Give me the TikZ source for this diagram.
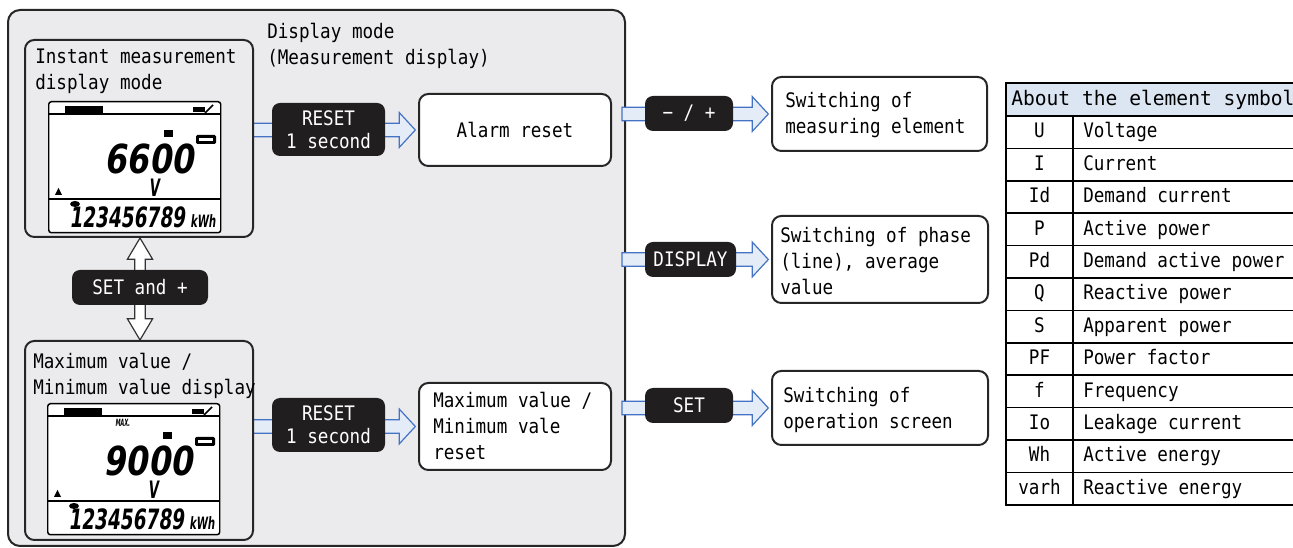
\documentclass[tikz,border=0pt]{standalone}
\usepackage{fontspec}
\setmainfont{DejaVu Sans Mono}[FakeStretch=0.88]
\newfontfamily\lcdfont{DejaVu Sans}[UprightFont={* Bold},FakeSlant=0.2]
\usetikzlibrary{calc}

\definecolor{panelgray}{RGB}{235,235,237}
\definecolor{flowblue}{RGB}{68,114,196}
\definecolor{flowfill}{RGB}{228,236,247}
\definecolor{keyblack}{RGB}{33,30,31}
\definecolor{headblue}{RGB}{220,230,242}

\pgfdeclarelayer{back}
\pgfdeclarelayer{flow}
\pgfsetlayers{back,flow,main}

\tikzset{
  boxsize/.style 2 args={minimum width=#1*0.75pt,minimum height=#2*0.75pt},
  txt/.style={font=\fontsize{15pt}{19.5pt}\selectfont,inner sep=0pt,align=left},
  panel/.style={draw=black!85,line width=1.5pt,fill=panelgray,rounded corners=9pt,inner sep=0pt},
  modebox/.style={draw=black!85,line width=1.5pt,fill=panelgray,rounded corners=7pt,inner sep=0pt},
  actbox/.style={draw=black!85,line width=1.5pt,fill=white,rounded corners=7pt,inner sep=0pt,
    font=\fontsize{15pt}{19.5pt}\selectfont},
  keybox/.style={fill=keyblack,text=white,rounded corners=6pt,inner sep=0pt,align=center,
    font=\fontsize{15pt}{17.25pt}\selectfont},
  flowarrow/.style={draw=flowblue,fill=flowfill,line width=0.9pt,line join=miter},
  keyarrow/.style={draw=black!80,fill=white,line width=0.9pt,line join=miter},
  lcdframe/.style={draw=black,line width=1.1pt,fill=white,rounded corners=2pt,inner sep=0pt,
    boxsize={172}{131}},
  gridline/.style={draw=black,line width=1.1pt},
}

% hollow arrow, east side of #1 to west side of #2, at the height of #2
\newcommand\hflow[2]{%
  \path[flowarrow] let \p1=(#1.east), \p2=(#2.west) in
    (\x1-3pt,\y2+5pt) -- (\x2-14pt,\y2+5pt) -- (\x2-14pt,\y2+13pt) -- (\x2-2pt,\y2)
    -- (\x2-14pt,\y2-13pt) -- (\x2-14pt,\y2-5pt) -- (\x1-3pt,\y2-5pt) -- cycle;}

% hollow arrow going up or down from #1 to #2
\newcommand\vflow[2]{%
  \path[keyarrow] let \p1=(#1), \p2=(#2), \n1={(\y2>\y1)*2-1} in
    (\x1-4pt,\y1) -- (\x1-4pt,\y2-\n1*16pt) -- (\x1-9.5pt,\y2-\n1*16pt) -- (\x1,\y2)
    -- (\x1+9.5pt,\y2-\n1*16pt) -- (\x1+4pt,\y2-\n1*16pt) -- (\x1+4pt,\y1) -- cycle;}

% meter screen: #1 name, #2 top left corner, #3 reading, #4 extra marks
\newcommand\lcdpanel[4]{%
  \begin{scope}[shift={#2}]
    \node[lcdframe,anchor=north west] (#1) at (0,0) {};
    \draw[line width=1.1pt] (0,13) -- (172,13);
    \draw[line width=1.1pt] (0,98) -- (172,98);
    \fill (17,5) rectangle (55,12);
    \fill (145,6) rectangle (157,11);
    \draw[line width=1.2pt] (157,12) -- (165,4);
    \fill (116,29) rectangle (125,36);
    \fill[rounded corners=1pt] (148,34) rectangle (168,43);
    \fill[white] (151,37) rectangle (165,40);
    \node[inner sep=0pt,anchor=base east,font=\lcdfont\fontsize{30pt}{30pt}\selectfont]
      (#1-val) at (146,73) {\scalebox{0.8}[1]{#3}};
    \node[inner sep=0pt,anchor=base,font=\lcdfont\fontsize{18pt}{18pt}\selectfont]
      (#1-unit) at (106,96) {\scalebox{0.55}[1]{V}};
    \fill (7,94) -- (14,94) -- (10.5,87) -- cycle;
    \fill (27,103) ellipse [x radius=5,y radius=3];
    \node[inner sep=0pt,anchor=base west,font=\lcdfont\fontsize{21pt}{21pt}\selectfont]
      (#1-count) at (21,127) {\scalebox{0.66}[1]{123456789}};
    \node[inner sep=0pt,anchor=base west,font=\lcdfont\fontsize{12.75pt}{12.75pt}\selectfont]
      (#1-kwh) at (142,127) {\scalebox{0.6}[1]{kWh}};
    #4
  \end{scope}}

\begin{document}
\begin{tikzpicture}[x=0.75pt,y=-0.75pt]
\useasboundingbox (0,0) rectangle (1293,548);
\clip (0,0) rectangle (1293,548);

\begin{pgfonlayer}{back}
  \node[panel,boxsize={617}{536}] (panel) at (316.5,278) {};
\end{pgfonlayer}

% texts of several lines sit on the baseline of their last line
\node[txt,anchor=base west] (title) at (267,65) {Display mode\\(Measurement display)};

% display modes
\node[modebox,boxsize={228}{197}] (inst) at (139,138.5) {};
\node[txt,anchor=base west] (instlbl) at (35,90) {Instant measurement\\display mode};
\lcdpanel{lcdA}{(48,101)}{6600}{}

\node[modebox,boxsize={228}{199}] (maxbox) at (139,440.5) {};
\node[txt,anchor=base west] (maxlbl) at (33,395) {Maximum value /\\Minimum value display};
\lcdpanel{lcdB}{(47,403)}{9000}{%
  \node[inner sep=0pt,anchor=base west,font=\lcdfont\fontsize{7.5pt}{7.5pt}\selectfont]
    (lcdB-max) at (68,24) {\scalebox{0.5}[1]{MAX.}};}

\node[keybox,boxsize={136}{35}] (setplus) at (140,287.5) {SET and +};

% reset keys and results
\node[keybox,boxsize={113}{53}] (resetA) at (328.5,129.5) {RESET\\1 second};
\node[actbox,boxsize={192}{72}] (alarm) at (515,130) {Alarm reset};
\node[keybox,boxsize={113}{54}] (resetB) at (328.5,425) {RESET\\1 second};
\node[actbox,boxsize={192}{87}] (maxreset) at (515,426.5) {};
\node[txt,anchor=base west] (maxresetlbl) at (433,460) {Maximum value /\\Minimum vale\\reset};

% keys on the right
\node[keybox,boxsize={88}{35}] (minusplus) at (689,113.5) {− / +};
\node[actbox,boxsize={215}{74}] (swelem) at (879.5,114) {};
\node[txt,anchor=base west] (swelemlbl) at (785,134) {Switching of\\measuring element};

\node[keybox,boxsize={91}{35}] (display) at (690.5,259.5) {DISPLAY};
\node[actbox,boxsize={216}{87}] (swphase) at (880,259.5) {};
\node[txt,anchor=base west] (swphaselbl) at (780,295) {Switching of phase\\(line), average\\value};

\node[keybox,boxsize={88}{35}] (setkey) at (689,405.5) {SET};
\node[actbox,boxsize={216}{74}] (swscreen) at (880,408) {};
\node[txt,anchor=base west] (swscreenlbl) at (783,429) {Switching of\\operation screen};

\begin{pgfonlayer}{flow}
  \hflow{inst}{alarm}
  \hflow{maxbox}{maxreset}
  \hflow{panel}{swelem}
  \hflow{panel}{swphase}
  \hflow{panel}{swscreen}
  \vflow{setplus.center}{inst.south}
  \vflow{setplus.center}{maxbox.north}
\end{pgfonlayer}

% element symbols
\draw[gridline,fill=headblue] (1006,83) rectangle (1300,116);
\node[txt,anchor=base west,font=\fontsize{15pt}{19.5pt}\selectfont\addfontfeature{FakeStretch=0.98}]
  (hdr) at (1011,106) {About the element symbol};
\foreach \sym/\desc [count=\i] in {U/Voltage,I/Current,Id/Demand current,P/Active power,
    Pd/Demand active power,Q/Reactive power,S/Apparent power,PF/Power factor,
    f/Frequency,Io/Leakage current,Wh/Active energy,varh/Reactive energy}{
  \pgfmathsetmacro\rowtop{116+(\i-1)*32.4}
  \draw[gridline] (1006,\rowtop) rectangle (1300,\rowtop+32.4);
  \draw[gridline] (1073,\rowtop) -- (1073,\rowtop+32.4);
  \node[txt,anchor=base] (sym-\i) at (1039.5,\rowtop+22) {\sym};
  \node[txt,anchor=base west] (desc-\i) at (1083,\rowtop+22) {\desc};
}
\end{tikzpicture}
\end{document}
